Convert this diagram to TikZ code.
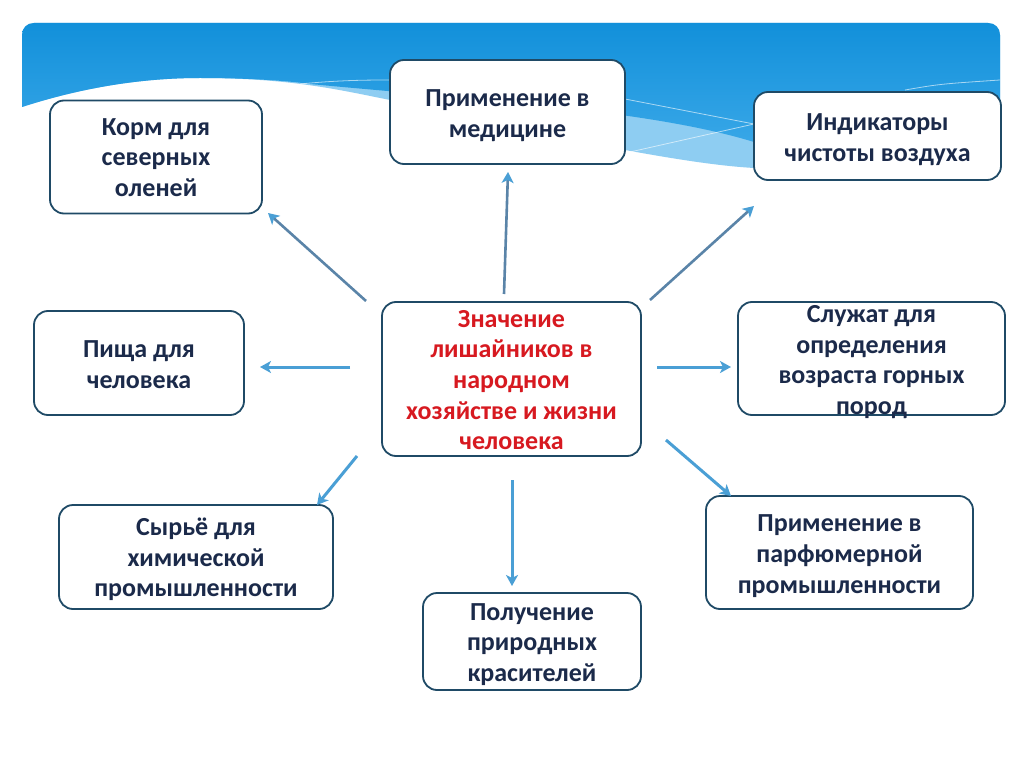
\documentclass[tikz,border=0pt]{standalone}
\usepackage{fontspec}
\setmainfont{Carlito}
\usetikzlibrary{arrows.meta}
\definecolor{boxline}{HTML}{1F4A66}
\definecolor{txt}{HTML}{1B2A4A}
\definecolor{txtred}{HTML}{D71920}
\definecolor{arr}{HTML}{4A9FD5}
\definecolor{arrdark}{HTML}{5A84A8}
\definecolor{bantop}{HTML}{1290DA}
\definecolor{banbot}{HTML}{3AA8E8}
\definecolor{banlight}{HTML}{8ECDF2}
\begin{document}
\begin{tikzpicture}[x=1pt,y=-1pt,
  box/.style={draw=boxline,line width=1.8pt,rounded corners=14pt,fill=white,inner sep=0pt},
  lbl/.style={align=center,font=\bfseries\fontsize{26}{30.7}\selectfont,text=txt,inner sep=0pt},
  conn/.style={draw=arr,line width=3pt,-{Stealth[length=11pt,width=12pt,inset=3pt]}},
  connd/.style={draw=arrdark,line width=2.6pt,-{Stealth[length=11pt,width=12pt,inset=3pt,color=arr]}},
  wave/.style={draw=white,opacity=0.6,line width=0.8pt}]
\useasboundingbox (0,0) rectangle (1024,767);
\fill[white] (0,0) rectangle (1024,767);
% banner
\fill[banlight] (22,107) .. controls (90,85) and (150,78) .. (200,78)
  .. controls (290,78) and (340,90) .. (390,100) -- (625,150)
  .. controls (680,160) and (720,166) .. (754,168) -- (1000,172)
  -- (1000,35) .. controls (1000,28) and (995,23) .. (988,23) -- (34,23)
  .. controls (27,23) and (22,28) .. (22,35) -- cycle;
\shade[top color=bantop,bottom color=banbot] (22,107) .. controls (90,85) and (150,78) .. (200,78)
  .. controls (250,78) and (290,81) .. (310,84)
  .. controls (480,100) and (650,110) .. (754,142) -- (1000,150)
  -- (1000,35) .. controls (1000,28) and (995,23) .. (988,23) -- (34,23)
  .. controls (27,23) and (22,28) .. (22,35) -- cycle;
\draw[wave] (300,84) .. controls (340,80) and (370,80) .. (392,80);
\draw[wave] (625,99) -- (754,124);
\draw[wave] (630,152) -- (754,124);
\draw[wave] (905,90) .. controls (940,84) .. (1000,80);
% boxes
\node[box,minimum width=212pt,minimum height=113pt] (b1) at (156,157) {};
\node[box,minimum width=235pt,minimum height=104pt] (b2) at (507.5,112) {};
\node[box,minimum width=247pt,minimum height=88pt] (b3) at (877.5,136) {};
\node[box,minimum width=210pt,minimum height=104pt] (b4) at (139,363) {};
\node[box,minimum width=259pt,minimum height=154pt] (c) at (511.5,379) {};
\node[box,minimum width=267pt,minimum height=113pt] (b6) at (871.5,358.5) {};
\node[box,minimum width=274pt,minimum height=104pt] (b7) at (196,557) {};
\node[box,minimum width=218pt,minimum height=97pt] (b8) at (532,641.5) {};
\node[box,minimum width=267pt,minimum height=113pt] (b9) at (839.5,552.5) {};
% texts
\node[lbl] (t1) at ([yshift=-0.5pt]b1.center) {Корм для\\северных\\оленей};
\node[lbl] (t2) at ([yshift=-3.5pt]b2.center) {Применение в\\медицине};
\node[lbl] (t3) at ([yshift=-3.5pt]b3.center) {Индикаторы\\чистоты воздуха};
\node[lbl] (t4) at ([yshift=-2pt]b4.center) {Пища для\\человека};
\node[lbl,text=txtred] (tc) at ([yshift=-1pt]c.center) {Значение\\лишайников в\\народном\\хозяйстве и жизни\\человека};
\node[lbl] (t6) at ([yshift=-3.5pt]b6.center) {Служат для\\определения\\возраста горных\\пород};
\node[lbl] (t7) at ([yshift=-2.5pt]b7.center) {Сырьё для\\химической\\промышленности};
\node[lbl] (t8) at ([yshift=-3pt]b8.center) {Получение\\природных\\красителей};
\node[lbl] (t9) at ([yshift=-3.5pt]b9.center) {Применение в\\парфюмерной\\промышленности};
% arrow ends
\coordinate (s1) at (366,301); \coordinate (e1) at (268,213);
\coordinate (s2) at (504,294); \coordinate (e2) at (508,172);
\coordinate (s3) at (650,300); \coordinate (e3) at (754,206);
\coordinate (s4) at (350,367); \coordinate (e4) at (260,367);
\coordinate (s5) at (657,367); \coordinate (e5) at (731,367);
\coordinate (s6) at (357,456); \coordinate (e6) at (317,505);
\coordinate (s7) at (512,480); \coordinate (e7) at (512,586);
\coordinate (s8) at (666,440); \coordinate (e8) at (731,496);
\draw[connd] (s1) -- (e1);
\draw[connd] (s2) -- (e2);
\draw[connd] (s3) -- (e3);
\draw[conn] (s4) -- (e4);
\draw[conn] (s5) -- (e5);
\draw[conn] (s6) -- (e6);
\draw[conn] (s7) -- (e7);
\draw[conn] (s8) -- (e8);
\end{tikzpicture}
\end{document}
